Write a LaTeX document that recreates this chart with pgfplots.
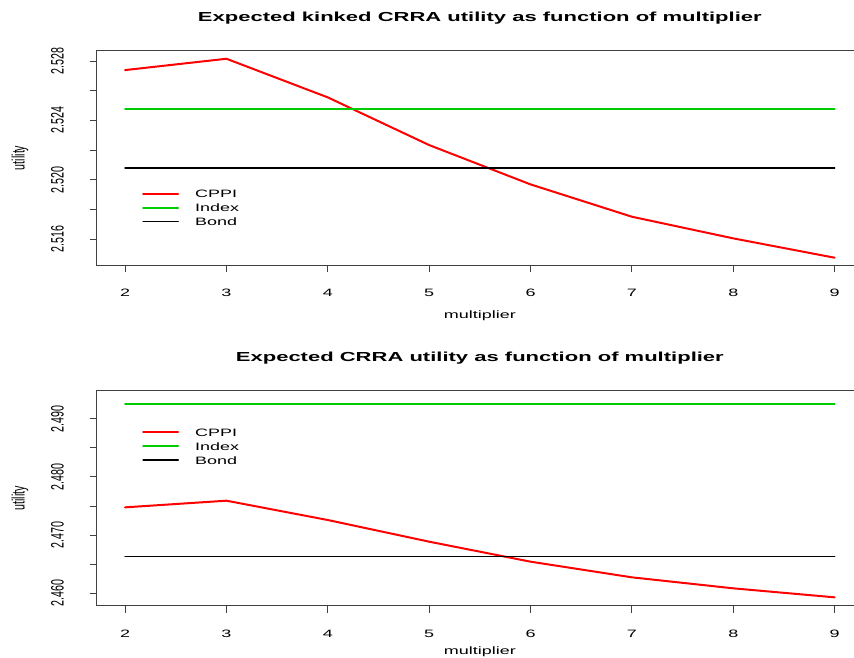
\documentclass[border=0pt]{standalone}
\usepackage{fontspec}
\setmainfont{Liberation Sans}
\usepackage{graphicx}
\usepackage{xcolor}
\usepackage{pgfplots}
\pgfplotsset{compat=1.18}

% text is set wide, as in the device the plots were made on
\newcommand{\hs}[1]{\scalebox{1.68}[1]{#1}}
\newcommand{\vs}[1]{\scalebox{1}[1.68]{#1}}

\definecolor{cppired}{RGB}{255,0,0}
\definecolor{indexgreen}{RGB}{0,205,0}
\definecolor{bondblack}{RGB}{0,0,0}

\pgfplotsset{
  rpanel/.style={
    scale only axis,
    width=766.3pt,
    xmin=1.72, xmax=9.28,
    axis line style={black!75, line width=1pt},
    tick style={black!75, line width=1pt},
    tick align=outside,
    major tick length=7pt,
    tick pos=left,
    minor tick num=0,
    font=\fontsize{10.7pt}{12pt}\selectfont,
    xtick={2,3,4,5,6,7,8,9},
    xticklabels={\hs{2},\hs{3},\hs{4},\hs{5},\hs{6},\hs{7},\hs{8},\hs{9}},
    xticklabel style={anchor=north, inner sep=0pt},
    xticklabel shift=17.3pt,
    yticklabel style={rotate=90, anchor=south, inner sep=0pt},
    yticklabel shift=25.7pt,
    xlabel={\hs{multiplier}},
    ylabel={\vs{utility}},
    every axis y label/.style={at={(axis description cs:-0.1001,0.5)}, rotate=90, anchor=center},
    title style={font=\fontsize{13.1pt}{15pt}\selectfont\bfseries, anchor=base},
    legend cell align=left,
  },
  rlegend/.style={
    legend style={draw=none, fill=none, at={#1}, anchor=north west,
      inner sep=0pt, row sep=0pt, column sep=16pt,
      font=\fontsize{10.7pt}{12pt}\selectfont,
      nodes={inner xsep=0pt, inner ysep=0pt, text height=9pt, text depth=5pt, anchor=base west}},
    legend image code/.code={\draw[##1] (0pt,3.9pt) -- (17pt,3.9pt) -- (35pt,3.9pt);},
  },
  cppi/.style={color=cppired, line width=2pt, line cap=round},
  index/.style={color=indexgreen, line width=2pt, line cap=round},
  bond/.style={color=bondblack, line width=1.6pt, line cap=round},
}

\begin{document}
\begin{tikzpicture}
\useasboundingbox (0pt,0pt) rectangle (854pt,657pt);

% upper panel: kinked CRRA utility
\begin{axis}[rpanel,
  at={(96.7pt,392pt)}, anchor=south west,
  height=214.3pt,
  ymin=2.51425, ymax=2.52870,
  ytick={2.516,2.518,2.520,2.522,2.524,2.526,2.528},
  yticklabels={\vs{2.516},,\vs{2.520},,\vs{2.524},,\vs{2.528}},
  title={\hs{Expected kinked CRRA utility as function of multiplier}},
  title style={at={(0.5,1.1073)}},
  every axis x label/.style={at={(axis description cs:0.5,-0.2487)}, anchor=base},
  rlegend={(0.0591,0.3583)},
]
\addplot[cppi] coordinates {
  (2,2.527393) (3,2.528157) (4,2.525551) (5,2.522337)
  (6,2.519685) (7,2.517505) (8,2.516045) (9,2.514741)};
\addlegendentry{\hs{CPPI}}
\addplot[index] coordinates {
  (2,2.524742) (3,2.524742) (4,2.524742) (5,2.524742)
  (6,2.524742) (7,2.524742) (8,2.524742) (9,2.524742)};
\addlegendentry{\hs{Index}}
\addplot[bond] coordinates {
  (2,2.520786) (3,2.520786) (4,2.520786) (5,2.520786)
  (6,2.520786) (7,2.520786) (8,2.520786) (9,2.520786)};
\addlegendentry{\hs{Bond}}
\end{axis}

% lower panel: CRRA utility
\begin{axis}[rpanel,
  at={(96.7pt,51.3pt)}, anchor=south west,
  height=215pt,
  ymin=2.45788, ymax=2.49481,
  ytick={2.460,2.465,2.470,2.475,2.480,2.485,2.490},
  yticklabels={\vs{2.460},,\vs{2.470},,\vs{2.480},,\vs{2.490}},
  title={\hs{Expected CRRA utility as function of multiplier}},
  title style={at={(0.5,1.107)}},
  every axis x label/.style={at={(axis description cs:0.5,-0.2247)}, anchor=base},
  rlegend={(0.0591,0.8312)},
]
\addplot[cppi] coordinates {
  (2,2.474773) (3,2.475918) (4,2.472598) (5,2.468877)
  (6,2.465442) (7,2.462752) (8,2.460864) (9,2.459318)};
\addlegendentry{\hs{CPPI}}
\addplot[index] coordinates {
  (2,2.492576) (3,2.492576) (4,2.492576) (5,2.492576)
  (6,2.492576) (7,2.492576) (8,2.492576) (9,2.492576)};
\addlegendentry{\hs{Index}}
\addplot[bond] coordinates {
  (2,2.466301) (3,2.466301) (4,2.466301) (5,2.466301)
  (6,2.466301) (7,2.466301) (8,2.466301) (9,2.466301)};
\addlegendentry{\hs{Bond}}
\end{axis}
\end{tikzpicture}
\end{document}
